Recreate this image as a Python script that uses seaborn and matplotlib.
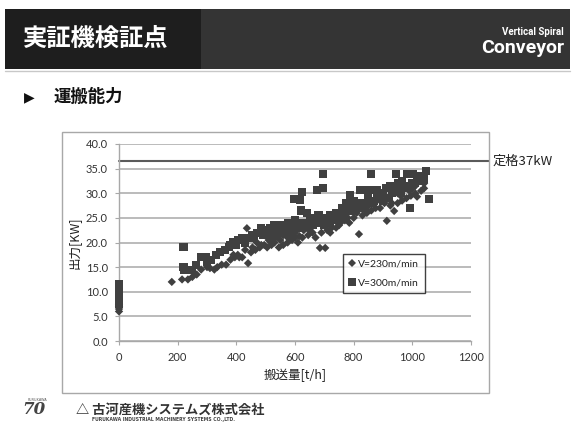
import matplotlib
matplotlib.use("Agg")
import matplotlib.pyplot as plt
from matplotlib.patches import Rectangle
from matplotlib.lines import Line2D
import seaborn as sns
import pandas as pd

# ---------------- data ----------------
S230 = "V=230m/min"
S300 = "V=300m/min"

x230 = [0, 0, 0, 0, 180, 215, 235, 250, 265, 280, 300, 310, 325, 335, 350, 365, 380, 395,
        405, 420, 436, 440, 450, 465, 480, 495, 505, 520, 530, 545, 560, 575, 590, 600,
        615, 625, 645, 660, 685, 703, 710, 725, 740, 755, 770, 785, 800, 818, 830, 845,
        860, 875, 890, 905, 913, 925, 938, 950, 965, 980, 995, 1010, 1016, 1030, 1040,
        560, 600, 640, 700, 760, 800, 850, 900, 950, 1000, 1040, 470, 510, 540, 585, 630,
        390, 410, 430, 455, 485, 520, 550, 575, 610, 650, 670, 690, 720, 750, 780, 810,
        840, 870, 890, 930, 960, 990, 1010]
y230 = [6, 6.5, 7, 7.5, 12, 12.5, 12.5, 13, 13.5, 14.5, 15, 14.8, 14.5, 15, 15.5, 15.5, 16.5, 17,
        17.5, 17, 22.9, 15.8, 18, 18.5, 19, 19.5, 19, 19.5, 20, 19, 19.5, 20, 20.5, 21,
        21.3, 21, 21.5, 22, 18.9, 18.9, 22.5, 23, 23, 24, 24.5, 24, 25, 21.7, 25.5, 26,
        26.5, 27, 27, 28, 24.4, 27.5, 26.4, 28, 28.5, 29, 29.5, 30, 29.3, 30.5, 31,
        21.5, 22, 23, 24, 25.5, 26.5, 27.5, 29, 30, 31, 32, 20, 20.5, 21, 21.5, 22.5,
        17.5, 17, 18.5, 19, 19.5, 20, 20.5, 21, 20, 22.5, 21, 22, 22, 23.5, 25, 26,
        26.5, 28, 28.5, 28, 29.5, 30.5, 31.5]

x300 = [0, 0, 0, 0, 0, 0, 0, 0, 0,
        220, 220, 222, 250, 262, 280, 295, 315, 345, 360, 375, 390, 405, 420, 440, 455,
        470, 485, 500, 515, 530, 545, 560, 575, 597, 617, 624, 620, 640, 660, 675, 695,
        695, 700, 720, 740, 760, 775, 788, 800, 822, 840, 860, 860, 880, 890, 910, 925,
        945, 950, 965, 982, 992, 1003, 1015, 1030, 1047, 1057,
        600, 620, 650, 680, 710, 730, 750, 770, 790, 810, 830, 850, 870, 900, 930, 960,
        990, 1010, 490, 520, 550, 580,
        520, 540, 560, 580, 600, 620, 640, 660, 680, 700, 720, 740, 760, 780, 800, 820,
        840, 860, 880, 900, 920, 940, 960, 980, 1000, 1020, 1040, 380, 400, 430, 460,
        330, 300]
y300 = [7.5, 8, 8.5, 9, 9.5, 10, 10.5, 11, 11.5,
        19.1, 15.1, 14.5, 14.5, 15.5, 17, 17, 16.5, 18, 18.5, 19, 20, 20.5, 21, 21, 21.5,
        22, 23, 22.5, 23, 23.5, 23, 23.5, 24, 28.8, 28.6, 30.3, 26.5, 26, 25, 30.7, 31,
        33.9, 25, 25.5, 26, 27, 28, 29.6, 28.5, 30.7, 30.7, 30.7, 33.9, 30.7, 30, 31, 31.5,
        33.9, 32, 32.5, 33.9, 27, 33.9, 33, 33.5, 34.6, 28.8,
        24.5, 24, 24.5, 25.5, 24, 25, 25.5, 26, 27, 27.5, 28, 29, 28.5, 29.5, 30, 31,
        31.5, 32, 21.5, 22, 22.5, 23,
        21, 22, 22, 22.5, 23, 23, 24, 23.5, 24, 23.5, 24, 24.5, 25, 26.5, 26.5, 27,
        27.5, 28, 29.5, 28.5, 29, 31, 30, 31, 32, 32.5, 33, 19.5, 19.5, 20, 21,
        17.5, 16]

RATED = 36.5
RATED_LABEL = "定格37kW"
X_TICKS = [0, 200, 400, 600, 800, 1000, 1200]
Y_TICKS = [0, 5, 10, 15, 20, 25, 30, 35, 40]

df = pd.DataFrame({
    "x": x230 + x300,
    "y": y230 + y300,
    "series": [S230] * len(x230) + [S300] * len(x300),
})

# ---------------- style ----------------
sns.set_theme(style="white")
plt.rcParams["font.family"] = ["Noto Sans CJK JP", "DejaVu Sans"]

W, H = 577, 426
fig = plt.figure(figsize=(W / 100, H / 100), dpi=100)
fig.patch.set_facecolor("white")

def fx(px):
    return px / W

def fy(py):
    return 1 - py / H

# header bar
fig.patches.append(Rectangle((fx(5), fy(69)), fx(196), 60 / H, transform=fig.transFigure,
                             facecolor="#1e1e1e", edgecolor="none"))
fig.patches.append(Rectangle((fx(201), fy(69)), fx(369), 60 / H, transform=fig.transFigure,
                             facecolor="#343434", edgecolor="none"))
fig.lines.append(Line2D([fx(5), fx(570)], [fy(71), fy(71)], transform=fig.transFigure,
                        color="#c8c8c8", lw=1))
fig.text(fx(23), fy(39), "実証機検証点", color="white", fontsize=17.5, fontweight="bold",
         va="center", ha="left")
fig.text(fx(564), fy(32), "Vertical Spiral", color="white", fontsize=7, fontweight="bold",
         family="Roboto", va="center", ha="right")
fig.text(fx(564), fy(48), "Conveyor", color="white", fontsize=14, fontweight="bold",
         family="Roboto", va="center", ha="right")

# section heading
fig.text(fx(24), fy(97), "▶", color="#111111", fontsize=10, va="center", ha="left",
         family=["DejaVu Sans"])
fig.text(fx(54), fy(97), "運搬能力", color="#111111", fontsize=12.5, fontweight="bold",
         va="center", ha="left")

# chart outer box
fig.patches.append(Rectangle((fx(62), fy(393)), fx(427), (393 - 132) / H,
                             transform=fig.transFigure, facecolor="none",
                             edgecolor="#a8a8a8", lw=1))

# axes
ax = fig.add_axes([fx(119), fy(341), fx(352), 197 / H])
ax.set_facecolor("none")
mark_color = "#404040"
sns.scatterplot(data=df, x="x", y="y", hue="series", style="series", size="series",
                palette={S230: mark_color, S300: mark_color},
                markers={S230: "D", S300: "s"},
                sizes={S230: 18, S300: 34},
                edgecolor="none", linewidth=0, ax=ax, zorder=3, clip_on=False)

ax.set_xlim(0, 1200)
ax.set_ylim(0, 40)
ax.set_xticks(X_TICKS)
ax.set_yticks(Y_TICKS)
ax.set_yticklabels([f"{v:.1f}" for v in Y_TICKS])
ax.set_xticklabels([str(v) for v in X_TICKS])
for lab in ax.get_xticklabels() + ax.get_yticklabels():
    lab.set_family("Lato")
    lab.set_fontsize(8)
    lab.set_color("#333333")

ax.grid(axis="y", color="#a8a8a8", lw=1.1)
ax.grid(axis="x", visible=False)
ax.set_axisbelow(True)
for s in ["top", "right"]:
    ax.spines[s].set_visible(False)
for s in ["left", "bottom"]:
    ax.spines[s].set_color("#a8a8a8")
    ax.spines[s].set_linewidth(1)
ax.tick_params(axis="both", which="both", length=3, width=0.8, color="#a8a8a8",
               direction="out", left=True, bottom=True, pad=5)

ax.axhline(RATED, xmin=0, xmax=1.051, color="#5a5a5a", lw=1.5, clip_on=False, zorder=2)
ax.text(1.062, RATED, RATED_LABEL, transform=ax.get_yaxis_transform(), fontsize=9.5,
        va="center", ha="left", color="#222222")

ax.set_xlabel("搬送量[t/h]", fontsize=9, color="#222222", labelpad=4)
ax.set_ylabel("出力[KW]", fontsize=9, color="#222222", labelpad=4)

leg = ax.legend(loc="lower left", bbox_to_anchor=(0.636, 0.244), borderaxespad=0,
                frameon=True, fancybox=False, edgecolor="#111111", fontsize=7.5,
                handlelength=0.6, handletextpad=0.3, labelspacing=0.9,
                borderpad=0.55)
leg.get_frame().set_linewidth(1.0)
for t in leg.get_texts():
    t.set_family("Lato")
    t.set_color("#222222")

# footer
fig.text(fx(22), fy(410), "70", color="#444444", fontsize=12, fontstyle="italic",
         fontweight="bold", family="DejaVu Serif", va="center", ha="left")
fig.text(fx(28), fy(400), "FURUKAWA", color="#555555", fontsize=2.5, va="center", ha="left",
         family="DejaVu Sans")
fig.text(fx(76), fy(410), "△ 古河産機システムズ株式会社", color="#333333", fontsize=9.5,
         fontweight="bold", va="center", ha="left")
fig.text(fx(92), fy(420), "FURUKAWA INDUSTRIAL MACHINERY SYSTEMS CO.,LTD.", color="#444444",
         fontsize=3.3, fontweight="bold", va="center", ha="left", family="DejaVu Sans")

fig.savefig("out.png", dpi=100)
